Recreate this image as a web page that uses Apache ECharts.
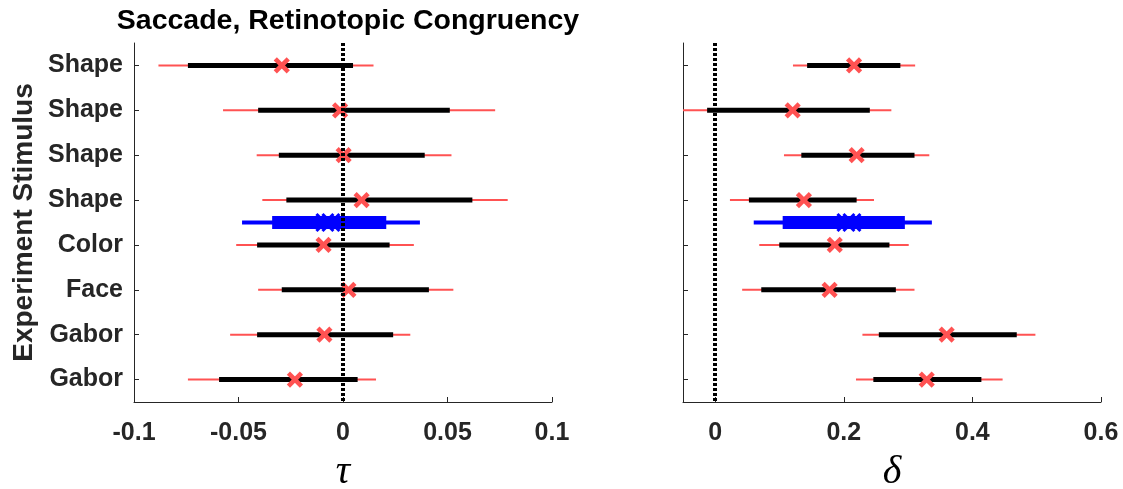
<!DOCTYPE html>
<html lang="en">
<head>
    <meta charset="UTF-8" />
    <title>Saccade, Retinotopic Congruency</title>
    <script src="https://cdn.jsdelivr.net/npm/echarts@6/dist/echarts.min.js"></script>
    <style>
        body { margin: 0; background: #fff; }
        #chart { width: 1123px; height: 489px; }
    </style>
</head>
<body>
    <div id="chart"></div>

    <script>
        // rows, top to bottom
        const stimulusLabels = ["Shape", "Shape", "Shape", "Shape", "Color", "Face", "Gabor", "Gabor"];
        const rowPos = [1, 2, 3, 4, 5, 6, 7, 8];
        const summaryPos = 4.5;

        // tau: point estimate, inner (thick) and outer (thin) intervals
        const tauMid = [-0.0293, -0.0014, 0.0003, 0.0089, -0.0093, 0.0026, -0.0089, -0.0230];
        const tauInnerLo = [-0.0742, -0.0406, -0.0307, -0.0271, -0.0411, -0.0293, -0.0411, -0.0593];
        const tauInnerHi = [0.0048, 0.0511, 0.0391, 0.0619, 0.0223, 0.0411, 0.0240, 0.0070];
        const tauOuterLo = [-0.0883, -0.0574, -0.0413, -0.0386, -0.0511, -0.0406, -0.0540, -0.0742];
        const tauOuterHi = [0.0146, 0.0728, 0.0519, 0.0788, 0.0339, 0.0528, 0.0322, 0.0158];
        const tauSummary = [-0.0072, -0.0339, 0.0207, -0.0483, 0.0368]; // mid, innerLo, innerHi, outerLo, outerHi

        // delta
        const deltaMid = [0.216, 0.1205, 0.220, 0.138, 0.186, 0.178, 0.360, 0.329];
        const deltaInnerLo = [0.143, -0.0125, 0.134, 0.0525, 0.0997, 0.0717, 0.2545, 0.246];
        const deltaInnerHi = [0.288, 0.2405, 0.310, 0.220, 0.271, 0.281, 0.469, 0.414];
        const deltaOuterLo = [0.121, -0.06, 0.107, 0.023, 0.0686, 0.042, 0.229, 0.219];
        const deltaOuterHi = [0.311, 0.274, 0.333, 0.247, 0.301, 0.310, 0.498, 0.447];
        const deltaSummary = [0.208, 0.105, 0.295, 0.060, 0.337];

        const tauTicks = [-0.1, -0.05, 0, 0.05, 0.1];
        const deltaTicks = [0, 0.2, 0.4, 0.6];

        const axisColor = "#262626";
        const red = "#ff5252";
        const labelFont = "Liberation Sans, Arial, sans-serif";

        function buildRows(mid, iLo, iHi, oLo, oHi, summary) {
            let rows = rowPos.map((y, i) => [y, mid[i], iLo[i], iHi[i], oLo[i], oHi[i], 0]);
            rows.push([summaryPos].concat(summary).concat([1]));
            return rows;
        }

        function cross(cx, cy, r, color, w) {
            return [
                { type: "line", shape: { x1: cx - r, y1: cy - r, x2: cx + r, y2: cy + r }, style: { stroke: color, lineWidth: w } },
                { type: "line", shape: { x1: cx - r, y1: cy + r, x2: cx + r, y2: cy - r }, style: { stroke: color, lineWidth: w } },
            ];
        }

        function renderRow(params, api) {
            let y = api.value(0);
            let mid = api.coord([api.value(1), y]);
            let iLo = api.coord([api.value(2), y]);
            let iHi = api.coord([api.value(3), y]);
            let oLo = api.coord([api.value(4), y]);
            let oHi = api.coord([api.value(5), y]);
            let summary = api.value(6) == 1;
            let left = params.coordSys.x;
            let x1 = Math.max(oLo[0], left);

            let children = [];
            if (summary) {
                children = children.concat(cross(mid[0] - 3, mid[1], 8.5, "#0000ff", 3));
                children = children.concat(cross(mid[0] + 3, mid[1], 8.5, "#0000ff", 3));
                children.push({ type: "line", shape: { x1: x1, y1: oLo[1], x2: oHi[0], y2: oHi[1] }, style: { stroke: "#0000ff", lineWidth: 4 } });
                children.push({ type: "line", shape: { x1: iLo[0], y1: iLo[1], x2: iHi[0], y2: iHi[1] }, style: { stroke: "#0000ff", lineWidth: 13 } });
            } else {
                children.push({ type: "line", shape: { x1: x1, y1: oLo[1], x2: oHi[0], y2: oHi[1] }, style: { stroke: red, lineWidth: 2 } });
                children.push({ type: "line", shape: { x1: Math.max(iLo[0], left), y1: iLo[1], x2: iHi[0], y2: iHi[1] }, style: { stroke: "#000", lineWidth: 5 } });
                children = children.concat(cross(mid[0], mid[1], 6.5, red, 4.5));
            }
            return { type: "group", children: children };
        }

        function yAxisFor(gridIndex, showLabels, name) {
            return {
                type: "value",
                gridIndex: gridIndex,
                min: 0.5,
                max: 8.5,
                inverse: true,
                name: name,
                nameLocation: "middle",
                nameGap: 96,
                nameTextStyle: { fontFamily: labelFont, fontWeight: "bold", fontSize: 28, color: axisColor },
                splitLine: { show: false },
                axisLine: { show: true, onZero: false, lineStyle: { color: axisColor, width: 1 } },
                axisTick: { show: true, inside: true, length: 5, customValues: rowPos, lineStyle: { color: axisColor } },
                axisLabel: {
                    show: showLabels,
                    customValues: rowPos,
                    margin: 11,
                    fontFamily: labelFont,
                    fontWeight: "bold",
                    fontSize: 25,
                    color: axisColor,
                    formatter: (v) => stimulusLabels[Math.round(v) - 1],
                },
            };
        }

        function xAxisFor(gridIndex, min, max, ticks, name) {
            return {
                type: "value",
                gridIndex: gridIndex,
                min: min,
                max: max,
                name: name,
                nameLocation: "middle",
                nameGap: 50,
                nameTextStyle: { fontFamily: "Liberation Serif, DejaVu Serif, serif", fontStyle: "italic", fontSize: 40, color: "#000" },
                splitLine: { show: false },
                axisLine: { show: true, onZero: false, lineStyle: { color: axisColor, width: 1 } },
                axisTick: { show: true, inside: true, length: 5, customValues: ticks, lineStyle: { color: axisColor } },
                axisLabel: {
                    customValues: ticks,
                    margin: 19,
                    fontFamily: labelFont,
                    fontWeight: "bold",
                    fontSize: 25,
                    color: axisColor,
                    formatter: (v) => String(Math.round(v * 1000) / 1000),
                },
            };
        }

        const zeroLine = {
            silent: true,
            symbol: "none",
            label: { show: false },
            lineStyle: { color: "#000", width: 4, type: [3, 2], cap: "butt", opacity: 1 },
            emphasis: { disabled: true },
            data: [{ xAxis: 0 }],
        };

        let myChart = echarts.init(document.getElementById("chart"), null, { renderer: "canvas" });

        let option = {
            animation: false,
            backgroundColor: "#fff",
            title: {
                text: "Saccade, Retinotopic Congruency",
                left: 343,
                textAlign: "center",
                top: 2,
                textStyle: { fontFamily: labelFont, fontWeight: "bold", fontSize: 28.5, color: "#000" },
            },
            grid: [
                { left: 134, top: 43, width: 418, height: 359, outerBoundsMode: "none", containLabel: false },
                { left: 683, top: 43, width: 418, height: 359, outerBoundsMode: "none", containLabel: false },
            ],
            xAxis: [
                xAxisFor(0, -0.1, 0.1, tauTicks, "τ"),
                xAxisFor(1, -0.05, 0.6, deltaTicks, "δ"),
            ],
            yAxis: [
                yAxisFor(0, true, "Experiment Stimulus"),
                yAxisFor(1, false, ""),
            ],
            series: [
                {
                    type: "custom",
                    xAxisIndex: 0,
                    yAxisIndex: 0,
                    renderItem: renderRow,
                    encode: { x: [1, 2, 3, 4, 5], y: 0 },
                    data: buildRows(tauMid, tauInnerLo, tauInnerHi, tauOuterLo, tauOuterHi, tauSummary),
                    markLine: zeroLine,
                },
                {
                    type: "custom",
                    xAxisIndex: 1,
                    yAxisIndex: 1,
                    renderItem: renderRow,
                    encode: { x: [1, 2, 3, 4, 5], y: 0 },
                    data: buildRows(deltaMid, deltaInnerLo, deltaInnerHi, deltaOuterLo, deltaOuterHi, deltaSummary),
                    markLine: zeroLine,
                },
            ],
        };

        myChart.setOption(option);
    </script>
</body>
</html>
